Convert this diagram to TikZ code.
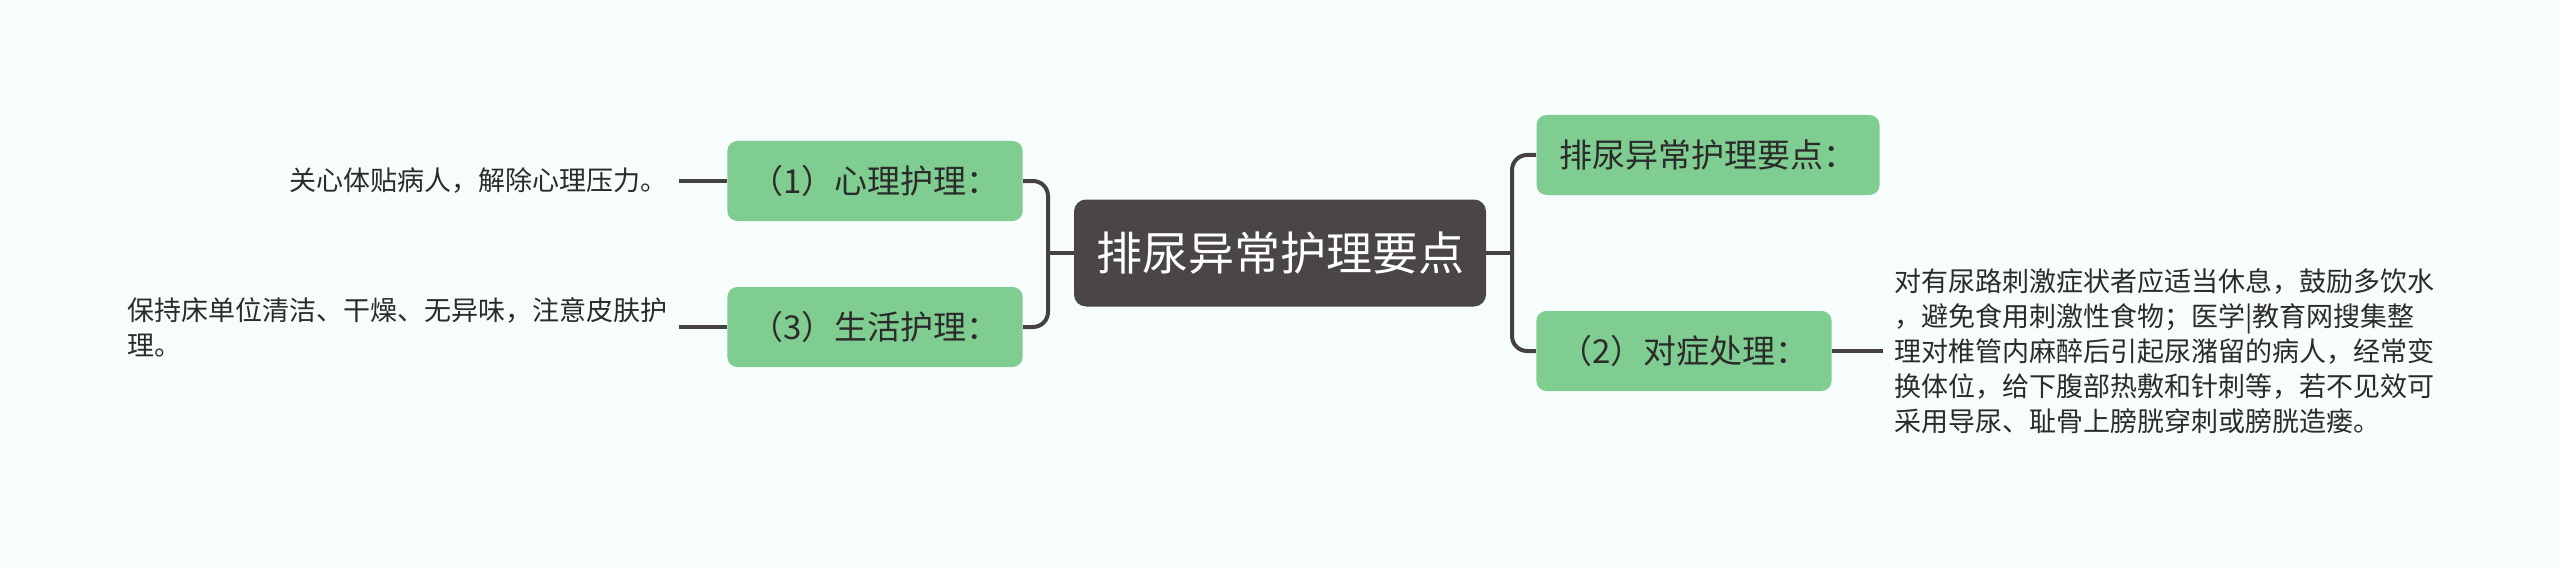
\documentclass[tikz,border=0pt]{standalone}
\usepackage{fontspec}
\setmainfont{Noto Sans CJK SC}
\definecolor{bgc}{HTML}{F7FDFD}
\definecolor{leafgreen}{HTML}{80CD91}
\definecolor{rootgray}{HTML}{4A4646}
\definecolor{linegray}{HTML}{454141}
\definecolor{textgray}{HTML}{2B2B2B}

\begin{document}
\begin{tikzpicture}[x=0.5pt,y=-0.5pt]

      \fill[bgc] (0,0) rectangle (2560,567);
      \useasboundingbox (0,0) rectangle (2560,567);

      \node[fill=rootgray, text=white, rounded corners=6pt, minimum height=53.5pt,
        inner xsep=11pt, font=\fontsize{23pt}{28pt}\selectfont] (0) at (1280,253) {排尿异常护理要点};

      \begin{scope}[every node/.style={fill=leafgreen, text=textgray, rounded corners=5pt,
          minimum height=40pt, inner xsep=11.5pt, font=\fontsize{16.5pt}{20pt}\selectfont}]
        \node (1) at (875,181)  {（1）心理护理：};
        \node (2) at (875,327)  {（3）生活护理：};
        \node (3) at (1708,155) {排尿异常护理要点：};
        \node (4) at (1684,351) {（2）对症处理：};
      \end{scope}

      \begin{scope}[every node/.style={align=left, text=textgray, inner xsep=5.5pt,
          font=\fontsize{13.5pt}{17.5pt}\selectfont}]
        \node[anchor=east] (5) at (679,181)  {关心体贴病人，解除心理压力。};
        \node[anchor=east] (6) at (679,327)  {保持床单位清洁、干燥、无异味，注意皮肤护\\理。};
        \node[anchor=west] (7) at (1883,351) {对有尿路刺激症状者应适当休息，鼓励多饮水\\
          ，避免食用刺激性食物；医学|教育网搜集整\\
          理对椎管内麻醉后引起尿潴留的病人，经常变\\
          换体位，给下腹部热敷和针刺等，若不见效可\\
          采用导尿、耻骨上膀胱穿刺或膀胱造瘘。};
      \end{scope}

      \coordinate (jl) at (1048,253);
      \coordinate (jr) at (1512,253);

      \begin{scope}[color=linegray, line width=2pt, rounded corners=7.5pt]
        \draw (0.west) -- (jl);
        \draw (jl) |- (1.east);
        \draw (jl) |- (2.east);
        \draw (0.east) -- (jr);
        \draw (jr) |- (3.west);
        \draw (jr) |- (4.west);
        \draw (5.east) -- (1.west);
        \draw (6.east) -- (2.west);
        \draw (4.east) -- (7.west);
      \end{scope}

    \end{tikzpicture}
\end{document}
